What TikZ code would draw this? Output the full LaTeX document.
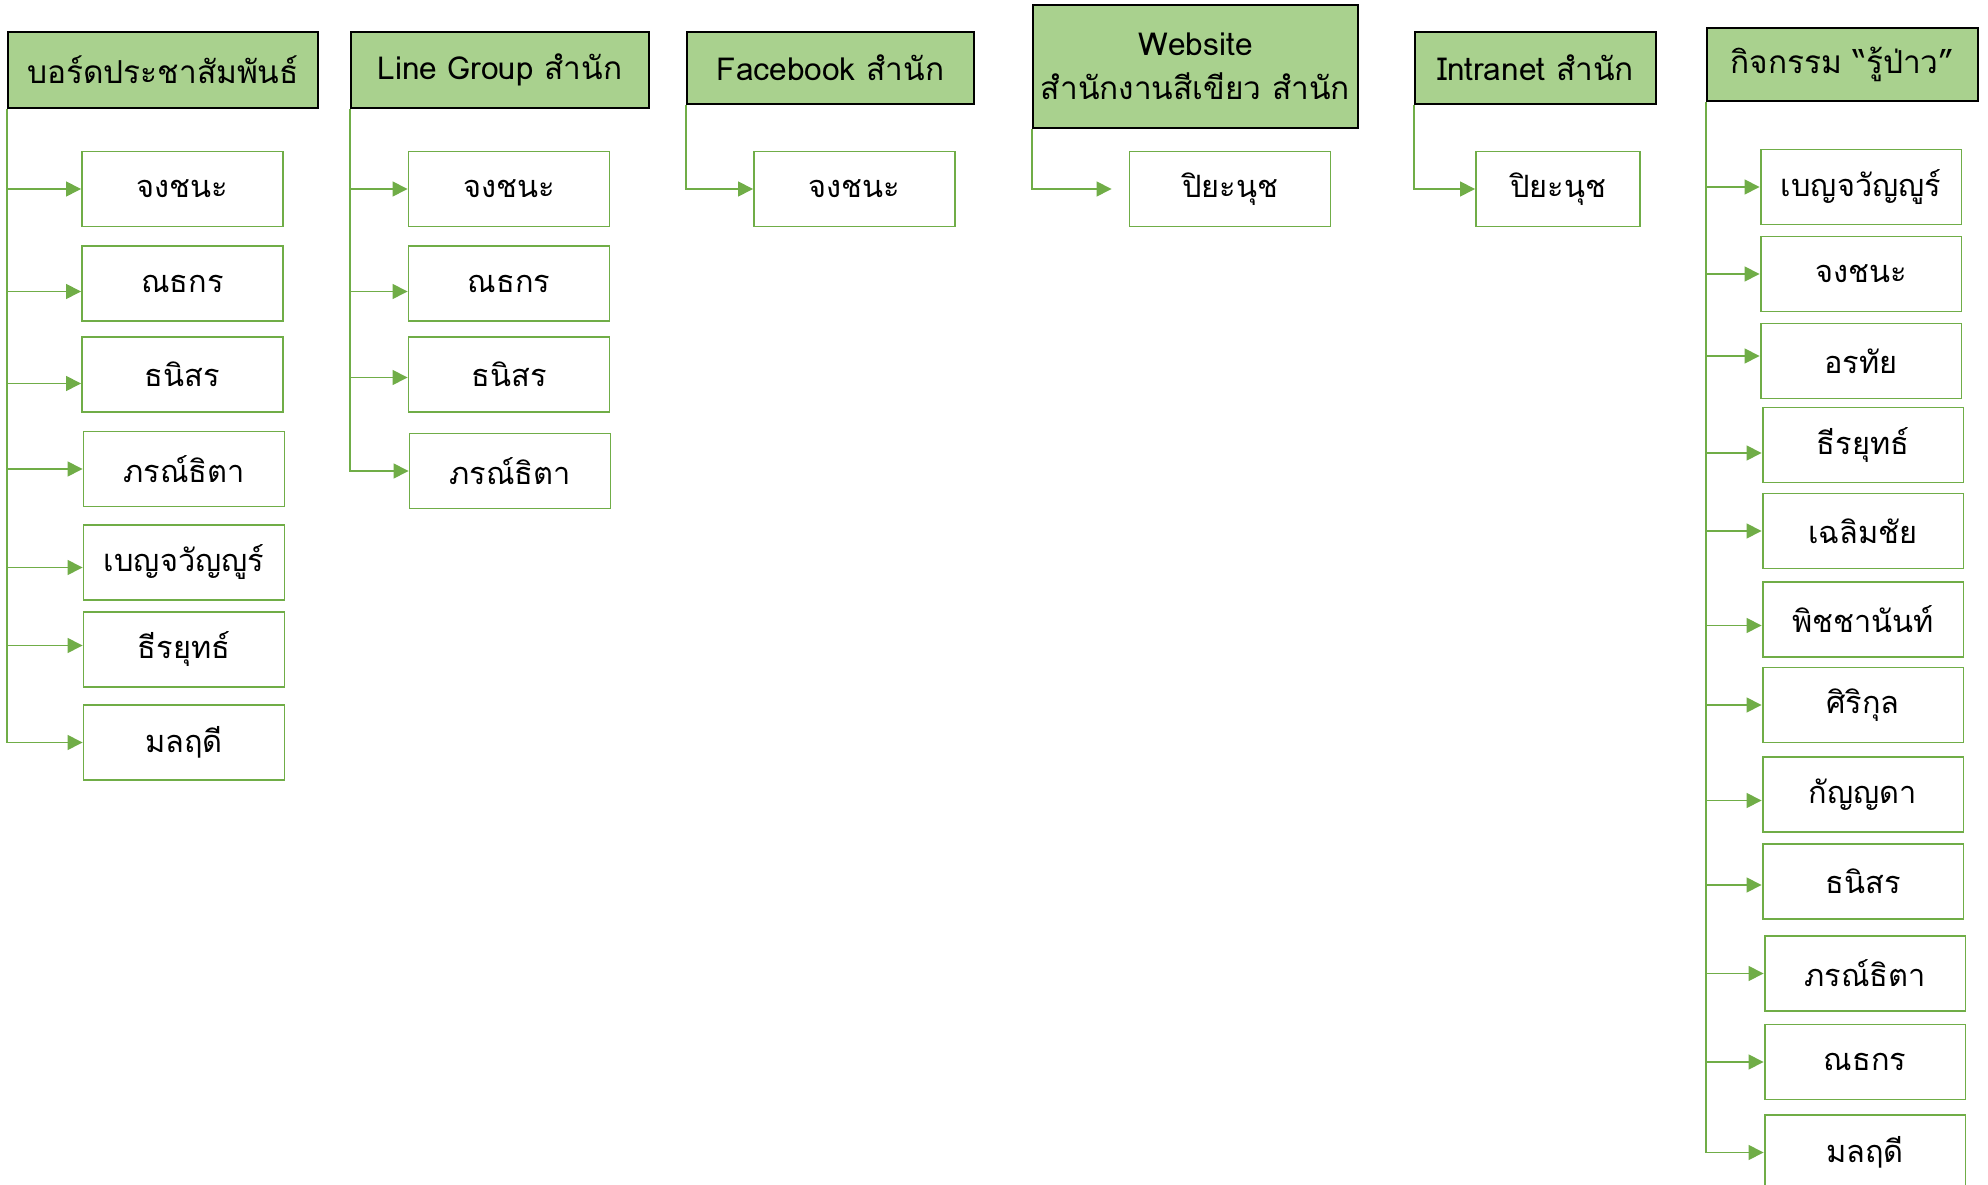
\documentclass[tikz,border=0pt]{standalone}
\usepackage{fontspec}
\setmainfont[Script=Thai]{Loma}
\usetikzlibrary{arrows.meta}

\definecolor{headgreen}{HTML}{A9D18E}
\definecolor{linegreen}{HTML}{70AD47}

\tikzset{
  head/.style={draw=black, line width=1.2pt, fill=headgreen, align=center,
    inner sep=0pt, font=\fontsize{18}{25}\selectfont},
  person/.style={draw=linegreen, line width=1.1pt, fill=white, inner sep=0pt,
    minimum width=4.02cm, minimum height=1.5cm, font=\fontsize{17.5}{20}\selectfont},
  feed/.style={draw=linegreen, line width=0.8pt,
    -{Triangle[length=0.3cm, width=0.3cm]}}
}

\begin{document}
\begin{tikzpicture}[x=0.02cm, y=-0.02cm]

  \useasboundingbox (0,0) rectangle (1988,1185);

  % headers
  \node[head, minimum width=6.2cm, minimum height=1.52cm] (h1) at (163,70) {บอร์ดประชาสัมพันธ์};
  \node[head, minimum width=5.96cm, minimum height=1.52cm] (h2) at (500,70) {Line Group สำนัก};
  \node[head, minimum width=5.74cm, minimum height=1.44cm] (h3) at (830.5,68) {Facebook สำนัก};
  \node[head, minimum width=6.5cm, minimum height=2.46cm] (h4) at (1195.5,66.5) {Website\\สำนักงานสีเขียว สำนัก};
  \node[head, minimum width=4.82cm, minimum height=1.44cm] (h5) at (1535.5,68) {Intranet สำนัก};
  \node[head, minimum width=5.42cm, minimum height=1.46cm] (h6) at (1842.5,64.5) {กิจกรรม “รู้ป่าว”};

  % board
  \node[person] (a1) at (182.5,189) {จงชนะ};
  \node[person] (a2) at (182.5,283.5) {ณธกร};
  \node[person] (a3) at (182.5,374.5) {ธนิสร};
  \node[person] (a4) at (184,469) {ภรณ์ธิตา};
  \node[person] (a5) at (184,562.5) {เบญจวัญญูร์};
  \node[person] (a6) at (184,649.5) {ธีรยุทธ์};
  \node[person] (a7) at (184,742.5) {มลฤดี};

  \draw[feed] (h1.south west) |- (a1.west);
  \draw[feed] (h1.south west) |- ([yshift=-0.16cm]a2.west);
  \draw[feed] (h1.south west) |- ([yshift=-0.18cm]a3.west);
  \draw[feed] (h1.south west) |- (a4.west);
  \draw[feed] (h1.south west) |- ([yshift=-0.1cm]a5.west);
  \draw[feed] (h1.south west) |- ([yshift=0.08cm]a6.west);
  \draw[feed] (h1.south west) |- (a7.west);

  % line group
  \node[person] (b1) at (509,189) {จงชนะ};
  \node[person] (b2) at (509,283.5) {ณธกร};
  \node[person] (b3) at (509,374.5) {ธนิสร};
  \node[person] (b4) at (510,471) {ภรณ์ธิตา};

  \draw[feed] (h2.south west) |- (b1.west);
  \draw[feed] (h2.south west) |- ([yshift=-0.16cm]b2.west);
  \draw[feed] (h2.south west) |- ([yshift=-0.06cm]b3.west);
  \draw[feed] (h2.south west) |- (b4.west);

  % facebook, website, intranet
  \node[person] (c1) at (854.5,189) {จงชนะ};
  \node[person] (d1) at (1230,189) {ปิยะนุช};
  \node[person, minimum width=3.28cm] (e1) at (1558,189) {ปิยะนุช};

  \draw[feed] (h3.south west) |- (c1.west);
  \draw[feed, shorten >=0.34cm] (h4.south west) |- (d1.west);
  \draw[feed] (h5.south west) |- (e1.west);

  % activity
  \node[person] (f1) at (1861,187) {เบญจวัญญูร์};
  \node[person] (f2) at (1861,274) {จงชนะ};
  \node[person] (f3) at (1861,361) {อรทัย};
  \node[person] (f4) at (1863,445) {ธีรยุทธ์};
  \node[person] (f5) at (1863,531) {เฉลิมชัย};
  \node[person] (f6) at (1863,619.5) {พิชชานันท์};
  \node[person] (f7) at (1863,705) {ศิริกุล};
  \node[person] (f8) at (1863,794.5) {กัญญดา};
  \node[person] (f9) at (1863,881.5) {ธนิสร};
  \node[person] (f10) at (1865,973.5) {ภรณ์ธิตา};
  \node[person] (f11) at (1865,1062) {ณธกร};
  \node[person] (f12) at (1865,1152.5) {มลฤดี};

  \draw[feed] (h6.south west) |- (f1.west);
  \draw[feed] (h6.south west) |- (f2.west);
  \draw[feed] (h6.south west) |- ([yshift=0.1cm]f3.west);
  \draw[feed] (h6.south west) |- ([yshift=-0.16cm]f4.west);
  \draw[feed] (h6.south west) |- (f5.west);
  \draw[feed] (h6.south west) |- ([yshift=-0.12cm]f6.west);
  \draw[feed] (h6.south west) |- (f7.west);
  \draw[feed] (h6.south west) |- ([yshift=-0.12cm]f8.west);
  \draw[feed] (h6.south west) |- ([yshift=-0.07cm]f9.west);
  \draw[feed] (h6.south west) |- (f10.west);
  \draw[feed] (h6.south west) |- (f11.west);
  \draw[feed] (h6.south west) |- (f12.west);

\end{tikzpicture}
\end{document}
